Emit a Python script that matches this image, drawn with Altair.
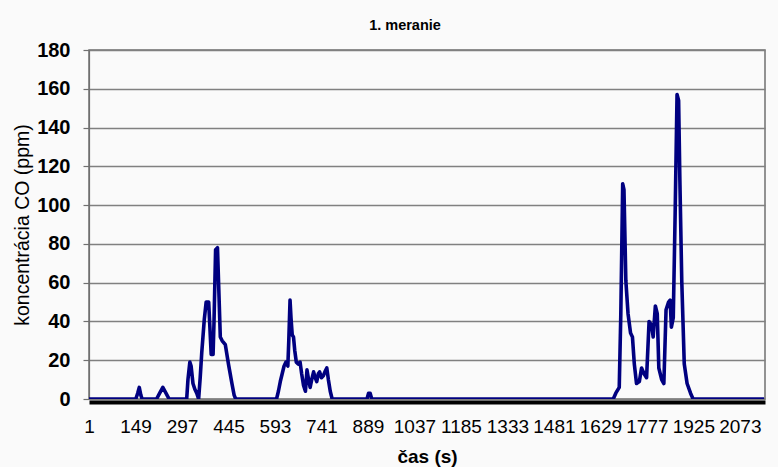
import altair as alt
import pandas as pd

# Measurement time (s) and CO concentration (ppm) at the curve's vertices
time_s = [
    1, 150, 156, 161, 166, 170,
    216, 226, 236, 246, 256,
    312, 316, 322, 326, 332, 338, 344, 350,
    355, 360, 368, 374, 382, 390, 396, 399, 404, 410, 419, 425, 435, 445, 456, 463, 468,
    598, 604, 610, 616, 622, 628, 634, 637, 641, 644, 648, 652, 656, 661, 667, 673,
    678, 684, 690, 695, 700, 705, 710, 716, 721, 726, 731, 735, 741, 747, 752, 758,
    763, 769, 775,
    886, 891, 896, 901,
    1670, 1678, 1689, 1694, 1700, 1704, 1710, 1717, 1725, 1731, 1737, 1744, 1753,
    1760, 1768, 1776, 1784, 1792, 1797, 1804, 1810, 1815, 1824, 1831, 1838, 1846,
    1851, 1855, 1861, 1867, 1873, 1878, 1882, 1888, 1896, 1905, 1916, 1924,
    2150,
]
co_ppm = [
    0, 0, 3, 6, 2, 0,
    0, 3, 6, 3, 0,
    0, 10, 19, 17, 8, 5, 3, 0,
    11, 24, 41, 50, 50, 23, 23, 40, 77, 78, 32, 30, 28, 18, 8, 2, 0,
    0, 4, 9, 13, 17, 19, 17, 30, 51, 42, 33, 32, 25, 19, 18, 19,
    13, 7, 4, 15, 10, 6, 10, 14, 11, 9, 13, 14, 11, 12, 14, 16,
    10, 4, 0,
    0, 3, 3, 0,
    0, 3, 6, 44, 111, 108, 61, 44, 34, 32, 18, 8, 9,
    16, 13, 11, 40, 38, 32, 48, 44, 16, 10, 8, 46, 50,
    51, 37, 42, 96, 157, 154, 113, 61, 18, 8, 3, 0,
    0,
]

x_ticks = [1, 149, 297, 445, 593, 741, 889, 1037, 1185, 1333, 1481, 1629, 1777, 1925, 2073]
y_ticks = [0, 20, 40, 60, 80, 100, 120, 140, 160, 180]

df = pd.DataFrame({"t": time_s, "co": co_ppm})

FONT = "Liberation Sans"

chart = (
    alt.Chart(df)
    .mark_line(color="#000080", strokeWidth=3.6, strokeJoin="round", clip=True)
    .encode(
        x=alt.X(
            "t:Q",
            scale=alt.Scale(domain=[1, 2153], nice=False, zero=False),
            axis=alt.Axis(
                values=x_ticks,
                format="d",
                title="čas (s)",
                grid=False,
                ticks=False,
                tickSize=0,
                domainColor="black",
                domainWidth=4,
                offset=3,
                labelFont=FONT,
                labelFontSize=19,
                labelColor="black",
                labelPadding=15,
                labelFlush=False,
                labelOverlap=False,
                titleFont=FONT,
                titleFontSize=19,
                titleFontWeight="bold",
                titleColor="black",
                titlePadding=11,
            ),
        ),
        y=alt.Y(
            "co:Q",
            scale=alt.Scale(domain=[0, 180], nice=False),
            axis=alt.Axis(
                values=y_ticks,
                title="koncentrácia CO (ppm)",
                gridColor="#808080",
                gridWidth=1.5,
                tickColor="#707070",
                tickSize=6,
                tickWidth=1.2,
                domainColor="#707070",
                domainWidth=1.2,
                labelFont=FONT,
                labelFontSize=20,
                labelFontWeight="bold",
                labelColor="black",
                labelPadding=13,
                titleFont=FONT,
                titleFontSize=19.5,
                titleFontWeight="normal",
                titleColor="black",
                titleAngle=-90,
                titleX=-67,
                titleY=174.5,
                titleBaseline="middle",
                titleAlign="center",
            ),
        ),
    )
    .properties(
        width=676,
        height=349,
        autosize=alt.AutoSizeParams(type="none"),
        padding={"left": 89, "top": 50, "right": 13, "bottom": 68},
        background="#fafafa",
        title=alt.Title(
            "1. meranie",
            font=FONT,
            fontSize=14.5,
            fontWeight="bold",
            color="black",
            anchor="middle",
            dx=-22,
            dy=1,
            baseline="middle",
            offset=1,
        ),
    )
    .configure_view(stroke="#707070", strokeWidth=1.5)
)

chart.save("out.html", embed_options={"renderer": "svg", "actions": False})
